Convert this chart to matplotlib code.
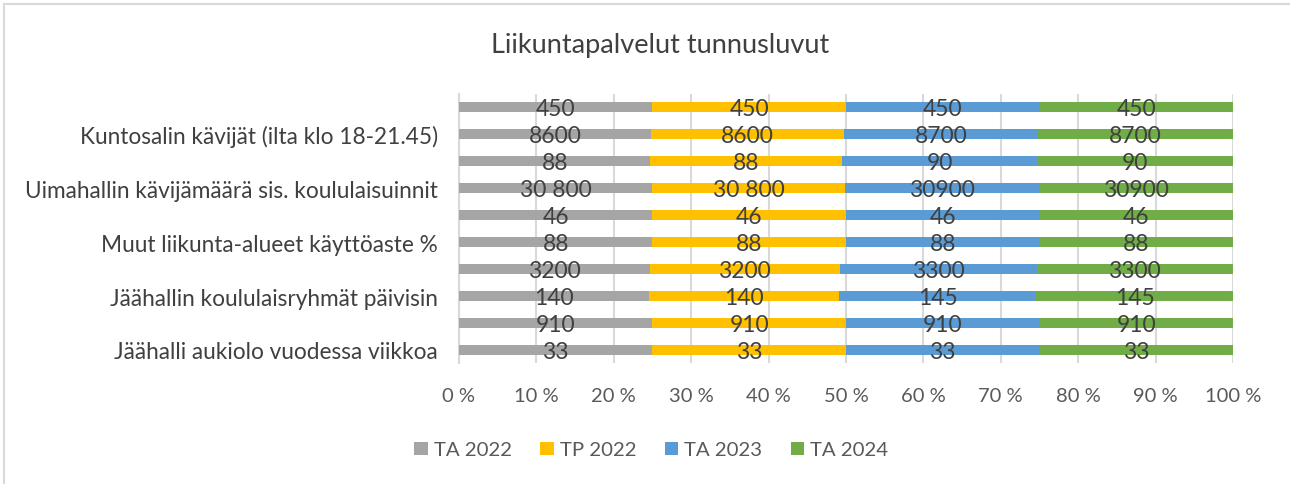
import numpy as np
import matplotlib.pyplot as plt
from matplotlib.lines import Line2D
from matplotlib.ticker import FuncFormatter

plt.rcParams['font.family'] = ['Lato', 'DejaVu Sans']

# bottom to top
categories = ['Jäähalli aukiolo vuodessa viikkoa', '',
              'Jäähallin koululaisryhmät päivisin', '',
              'Muut liikunta-alueet käyttöaste %', '',
              'Uimahallin kävijämäärä sis. koululaisuinnit', '',
              'Kuntosalin kävijät (ilta klo 18-21.45)', '']
ta2022 = [33, 910, 140, 3200, 88, 46, 30800, 88, 8600, 450]
tp2022 = [33, 910, 140, 3200, 88, 46, 30800, 88, 8600, 450]
ta2023 = [33, 910, 145, 3300, 88, 46, 30900, 90, 8700, 450]
ta2024 = [33, 910, 145, 3300, 88, 46, 30900, 90, 8700, 450]
series_names = ['TA 2022', 'TP 2022', 'TA 2023', 'TA 2024']
colors = ['#a5a5a5', '#ffc000', '#5b9bd5', '#70ad47']

# labels as shown in the source (some with thousands space)
labels = {
    'TA 2022': ['33', '910', '140', '3200', '88', '46', '30 800', '88', '8600', '450'],
    'TP 2022': ['33', '910', '140', '3200', '88', '46', '30 800', '88', '8600', '450'],
    'TA 2023': ['33', '910', '145', '3300', '88', '46', '30900', '90', '8700', '450'],
    'TA 2024': ['33', '910', '145', '3300', '88', '46', '30900', '90', '8700', '450'],
}

data = np.array([ta2022, tp2022, ta2023, ta2024], dtype=float)
share = data / data.sum(axis=0)

fig = plt.figure(figsize=(12.9, 4.85), dpi=100)
ax = fig.add_axes([0.3558, 0.2485, 0.6, 0.5565])

y = np.arange(len(categories))
left = np.zeros(len(categories))
for i, name in enumerate(series_names):
    ax.barh(y, share[i], left=left, height=0.4, color=colors[i], label=name,
            zorder=3)
    for j in range(len(categories)):
        ax.text(left[j] + share[i][j] / 2, y[j] - 0.05, labels[name][j],
                ha='center', va='center', fontsize=16.5, color='#404040',
                zorder=4)
    left += share[i]

ax.set_xlim(0, 1)
ax.set_ylim(-0.5, len(categories) - 0.5)
ax.set_xticks(np.arange(0, 1.01, 0.1))
ax.xaxis.set_major_formatter(FuncFormatter(lambda v, p: f'{round(v * 100)} %'))
ax.set_yticks(y)
ax.set_yticklabels(categories)
ax.tick_params(axis='y', length=0, pad=15, labelsize=16.3, labelcolor='#404040')
ax.tick_params(axis='x', length=0, pad=17, labelsize=14.5, labelcolor='#595959')
ax.grid(axis='x', color='#d9d9d9', linewidth=1.5, zorder=0)
for s in ['top', 'right', 'bottom']:
    ax.spines[s].set_visible(False)
ax.spines['left'].set_color('#d9d9d9')
ax.spines['left'].set_linewidth(1.5)

fig.text(0.512, 1 - 45 / 485, 'Liikuntapalvelut tunnusluvut', ha='center',
         va='center', fontsize=19.5, color='#404040')

fig.legend(loc='center', bbox_to_anchor=(0.505, 1 - 451 / 485), ncol=4,
           frameon=False, fontsize=14.7, handlelength=0.65, handleheight=0.65,
           handletextpad=0.3, columnspacing=1.4, labelcolor='#595959')

# chart border
fig.add_artist(Line2D([4 / 1290, 1], [1 - 5 / 485] * 2, color='#d9d9d9',
                      linewidth=1.5, transform=fig.transFigure))
fig.add_artist(Line2D([4 / 1290] * 2, [0, 1 - 5 / 485], color='#d9d9d9',
                      linewidth=1.5, transform=fig.transFigure))

fig.savefig('out.png', dpi=100)
